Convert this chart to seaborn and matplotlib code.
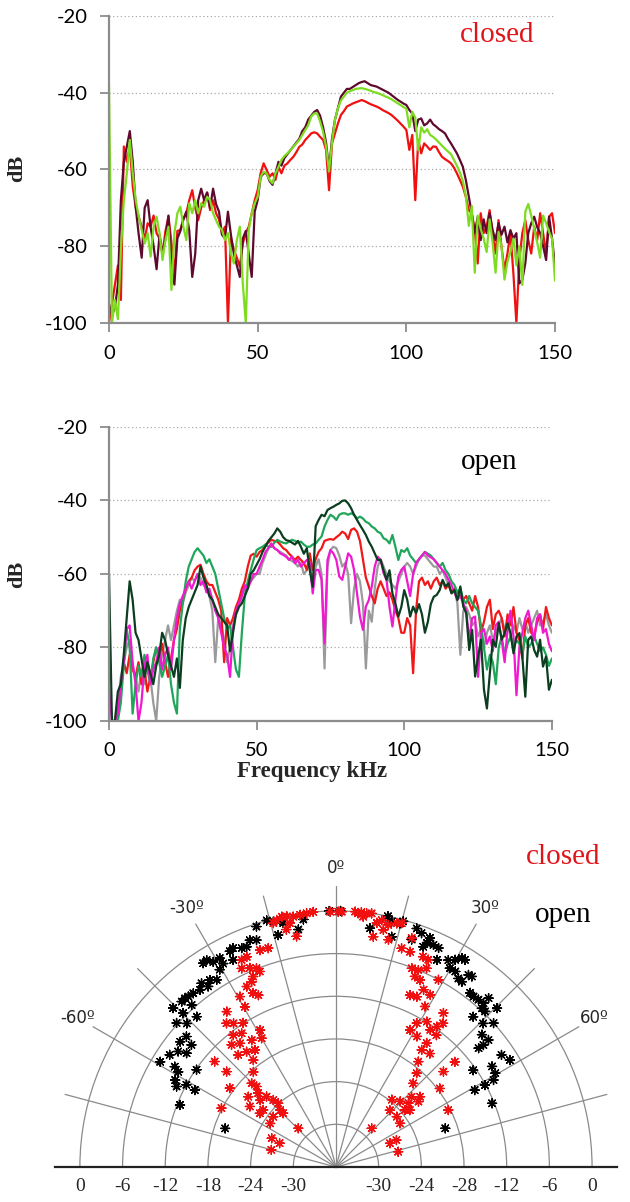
import numpy as np
import pandas as pd
import matplotlib
matplotlib.use("Agg")
from matplotlib import pyplot as plt
import seaborn as sns

# frequency axis of both spectra (kHz)
freq = list(range(0, 151))

# --- top panel: wings closed (dB) ---
closed_maroon = [
    -95, -98, -96, -90, -68, -58, -54, -50, -58, -70,
    -77, -83, -70, -68, -75, -80, -86, -77, -82, -78,
    -72, -85, -90, -78, -76, -73, -71, -76, -88, -82,
    -68, -65, -68, -66, -70, -65, -69, -71, -77, -78,
    -71, -77, -82, -85, -88, -78, -76, -82, -88, -71,
    -68, -62, -61, -61, -63, -64, -61, -58, -59, -57,
    -56, -55, -54, -53, -52, -50, -49, -47, -46, -45,
    -44.5, -46, -49, -53, -60, -52, -47, -44, -41, -40,
    -39, -39, -38.5, -38, -37.5, -37.2, -37, -37.5, -38, -38.2,
    -38.4, -38.8, -39.2, -39.6, -40, -40.6, -41.2, -41.8, -42.3, -42.8,
    -43.2, -44.5, -45.4, -50, -47, -46.7, -48.5, -48, -47, -48.2,
    -48.8, -49.5, -50, -50.6, -52, -53.2, -54.5, -55.8, -57.5, -59.3,
    -62.7, -67, -71.4, -76.6, -72.3, -78.4, -73, -76.6, -71.4, -75.8,
    -78.4, -74, -77, -74.9, -79, -75.8, -78, -76.6, -89.7, -88.8,
    -84.5, -76.6, -74, -72.3, -75, -76.6, -80, -83.6, -72.3, -78, -85.3,
]
closed_red = [
    -100, -95, -90, -85, -94, -54, -58, -54, -64.5, -70,
    -72.3, -75, -78.4, -74, -74.9, -72, -76.6, -78, -81.9, -76,
    -72.3, -79, -87.1, -76, -75.8, -73, -71.4, -68, -65.4, -70,
    -73.2, -70, -68, -66, -70.6, -68, -71.4, -73, -76.6, -74.9,
    -100, -78, -81, -83, -85.3, -79.3, -76.6, -74.9, -71.4, -68,
    -65.4, -61, -58.4, -60.1, -61.9, -61, -62.7, -59.3, -61, -59,
    -58.4, -57.5, -56.7, -55.5, -54.1, -53.5, -52.3, -51.5, -50.6, -50.3,
    -50.6, -51.5, -52.3, -54.9, -65.4, -53.2, -50.6, -48, -45.8, -44.8,
    -43.6, -43.2, -42.8, -42.5, -42.2, -41.9, -42.2, -42.6, -43, -43.3,
    -43.6, -44, -44.5, -44.9, -45.3, -45.8, -46.5, -47.2, -48, -48.8,
    -49.7, -54.9, -51, -68, -52.3, -55.8, -53.2, -54, -54.9, -54,
    -54.1, -55.5, -56.7, -57.3, -57.8, -58.4, -59.5, -61, -62.7, -64.5,
    -67.1, -70.6, -71.4, -75.8, -84.5, -71.4, -76.6, -74.9, -70.6, -76.6,
    -81.9, -73.2, -80.1, -86.2, -81.9, -76.6, -87.1, -100, -83.6, -76.6,
    -73.2, -78.4, -81.9, -74.9, -78.4, -71.4, -76.6, -81.9, -72.3, -71.4, -76.6,
]
closed_green = [
    -38, -100, -94, -99, -81, -68, -61, -52.3, -61, -68,
    -72.3, -75.8, -79.3, -76.6, -82.7, -74.9, -72.3, -76.6, -83.6, -78.4,
    -74.9, -91.4, -76.6, -71.4, -69.7, -74.9, -78.4, -68.8, -71.4, -68,
    -71.4, -68.8, -69.7, -67.1, -68, -71.4, -73.2, -74.9, -75.8, -78.4,
    -76.6, -81.9, -84.5, -78.4, -74.9, -89.7, -100, -75.8, -71.4, -68.8,
    -67.1, -61.9, -60.6, -61, -62.7, -63.6, -61, -59.3, -57.5, -56.5,
    -55.8, -55, -54.1, -53.2, -52.3, -51, -49.7, -48.5, -46.2, -45.4,
    -45.4, -47.5, -50.2, -54, -60.5, -53, -47, -44, -42, -41,
    -40, -39.6, -39.3, -39, -38.9, -38.8, -39, -39.2, -39.5, -39.8,
    -40, -40.3, -40.6, -41, -41.3, -41.7, -42.2, -42.7, -43.2, -43.7,
    -44.2, -49, -45, -46.5, -55, -49, -50.4, -49.5, -51, -51.5,
    -52.2, -53, -53.8, -54.6, -55.3, -56, -57.5, -59, -60.8, -63,
    -66.9, -74.7, -69.5, -86.9, -72, -75.5, -78, -81.5, -73, -79,
    -86.9, -76.3, -80, -88.7, -84, -81.5, -78, -85, -80, -90.1,
    -71, -69, -72, -75.5, -79, -83, -72, -74, -76.3, -78, -89,
]

# --- middle panel: wings open (dB) ---
open_gray = [
    -100, -100, -100, -95, -88, -84, -80, -78, -85, -88,
    -92, -86, -90, -84, -88, -95, -100, -88, -82, -78,
    -74, -78, -74, -70, -67, -68, -65, -63, -61, -62,
    -60, -61, -63, -64, -66, -70, -84, -72, -74, -78,
    -84, -80, -74, -71, -69, -66, -64, -63, -62, -61,
    -60, -60, -57, -55, -53, -52, -53, -53.5, -54, -54.5,
    -55, -56, -56.5, -57, -58, -57, -60, -59, -57, -62,
    -58, -56, -60, -85.7, -58, -53.5, -52.6, -53, -55, -58,
    -57, -60, -73.4, -64, -60, -62, -68, -85.7, -70, -73,
    -64, -58, -56, -58, -60, -62, -63, -64, -62, -60,
    -58, -57, -58, -60, -58, -56, -55, -55, -56, -57,
    -58, -58, -60, -59, -61, -63, -65, -64, -68, -82,
    -70, -69, -71, -74, -73, -77, -75, -80, -76, -74,
    -78, -76, -74, -72, -75, -73, -77, -74, -76, -72,
    -75, -73, -76, -74, -72, -70, -74, -73, -71, -74, -76,
]
open_red = [
    -100, -100, -100, -98, -92, -84, -87, -82, -86, -88,
    -84, -90, -86, -92, -88, -84, -80, -83, -79, -84,
    -88, -83, -78, -75, -70, -67, -64, -62, -61, -59,
    -58, -57.5, -60, -62, -63, -63, -65, -67, -70, -84,
    -72, -74, -72, -69, -67, -64, -62, -58, -55, -54.5,
    -55.3, -54, -53.5, -52, -51.5, -50.7, -51, -51.2, -52, -53,
    -53.5, -54.5, -55.3, -56.2, -55.3, -56.2, -57, -58.9, -54.4, -58.9,
    -56, -54, -53, -51, -50.7, -50.5, -50.7, -50, -49.4, -48.5,
    -49, -50.5, -48, -47.6, -48.5, -51, -56, -61, -63.4, -66,
    -68, -64, -62, -64, -66, -65, -67, -70, -72, -76,
    -76, -72, -74, -87, -70, -62, -61, -63, -62, -64,
    -62, -61, -63, -62, -64, -63, -65, -64, -65, -66,
    -67, -66, -68, -70, -66, -69, -76, -73, -69, -67,
    -75, -71, -70, -72, -77, -71, -74, -69, -76, -78,
    -83, -74, -72, -76, -77, -73, -71, -75, -69, -72, -74,
]
open_green = [
    -100, -100, -100, -100, -95, -85, -75, -80, -98, -90,
    -85, -88, -82, -86, -90, -83, -80, -84, -88, -85,
    -82, -90, -95, -98, -75, -68, -62, -58, -56, -54,
    -53, -54, -55, -57, -56, -58, -60, -64, -68, -72,
    -75, -74, -80, -86, -88, -76, -66, -62, -59, -56,
    -53.5, -53, -52.6, -52, -52.6, -52.6, -51.5, -50.7, -51.2, -51.5,
    -51.7, -51.2, -50.7, -51, -51.5, -51.2, -52, -52.6, -52.6, -52,
    -51.7, -50.7, -49.8, -47.1, -45.3, -43.9, -44.4, -45.3, -43.9, -43.5,
    -43.5, -43.9, -43.5, -43.9, -44.9, -44.4, -44.9, -45.8, -46.2, -47.1,
    -47.6, -48.5, -48.9, -50.3, -50.7, -51.7, -49.4, -52.6, -56.2, -53.5,
    -54, -53, -55, -56, -57, -56, -55, -54, -54.5, -55,
    -56, -57, -58, -57, -59, -60, -62, -63, -65, -64,
    -67, -68, -66, -68, -69, -70, -74, -80, -86, -82,
    -84, -90, -80, -77, -82, -79, -77, -80, -78, -79,
    -82, -77, -80, -79, -77, -79, -81, -80, -82, -85, -83,
]
open_magenta = [
    -91, -100, -100, -98, -90, -84, -75, -74, -84, -90,
    -100, -95, -85, -82, -90, -86, -84, -80, -86, -82,
    -80, -86, -78, -72, -68, -66, -64, -62, -64, -62,
    -60, -63, -62, -65, -64, -67, -70, -72, -76, -80,
    -82, -88, -75, -70, -68, -66, -63, -64, -62, -60,
    -60, -58, -56.2, -54, -53, -51.7, -53, -53.5, -54.4, -54.8,
    -55.3, -56.2, -55.3, -57.1, -56.2, -58, -57.1, -56.2, -57.1, -65.3,
    -58.9, -58.9, -61.6, -78.9, -56.2, -53.5, -54.4, -56.2, -60.7, -61.6,
    -58, -54.4, -55.3, -58.9, -65.3, -71.6, -75.2, -68.9, -67.1, -63.4,
    -58, -55.3, -56.2, -59.8, -61.6, -68.9, -74.3, -67.1, -60.7, -58.9,
    -58, -62, -66, -60, -57, -56, -55, -54, -55, -55.5,
    -56, -57, -58, -59, -60, -61.6, -63, -65, -67, -66,
    -68, -70, -78, -72, -71.6, -88, -76, -75, -79, -77,
    -81, -74, -73, -78, -84, -75, -70, -77, -93, -80,
    -76, -72, -70, -74, -78, -72, -71, -76, -75, -79, -81,
]
open_dark = [
    -60, -100, -100, -92, -90, -82, -72, -62, -67, -76,
    -78, -83, -88, -84, -87, -90, -85, -82, -76, -78,
    -82, -85, -88, -83, -91, -78, -72, -69, -67, -65,
    -63, -58, -61, -63, -66, -67, -69, -71, -72, -73,
    -74, -81, -76, -71, -69, -68, -66, -64, -60, -59,
    -57.5, -56, -54, -52.5, -51, -50, -49, -47.6, -48.5, -50,
    -50.8, -51, -51.5, -52, -51, -52.6, -54.5, -53, -59, -63.5,
    -47, -45.3, -43.9, -44.3, -42.6, -42.1, -41.7, -41.2, -40.8, -40.1,
    -40, -40.8, -42.1, -43.9, -45.3, -46.7, -48, -49.4, -51.2, -52.6,
    -54.4, -56.2, -56.2, -59, -61.6, -59, -65.3, -68, -71.6, -69,
    -64.4, -67, -71.6, -68.9, -70.7, -68.2, -71, -76, -73, -68.2,
    -66.2, -65.7, -64.4, -61.6, -63.4, -62.5, -65.3, -64.4, -67.1, -63.4,
    -68.9, -70.7, -80.7, -75.2, -87.9, -82.5, -77.9, -91.5, -96.6, -86.9,
    -77.9, -79.8, -73.4, -77.9, -76.1, -73.4, -76.1, -81.6, -77, -76.1,
    -82.5, -93.4, -77.9, -77, -80.7, -82.5, -77.9, -85.2, -82.5, -91.5, -88.8,
]

# --- polar panel: (angle in degrees, level in dB) ---
closed_pts = [
    (-5.1, 0.0), (-6.6, -0.1), (-8.1, -0.2), (-9.7, -0.3), (-11.1, -0.1),
    (-12.2, 0.0), (-13.5, -0.3), (-14.4, -0.6), (-10.7, -1.1), (-11.8, -1.9),
    (-9.7, -3.1), (-1.3, -0.1), (0.5, -0.1), (-19.3, -3.7), (-17.2, -3.8),
    (-23.0, -3.9), (-24.5, -4.0), (-25.4, -5.1), (-23.4, -5.5), (-21.8, -5.9),
    (-21.3, -6.5), (-23.5, -6.8), (-24.5, -7.4), (-26.3, -7.7), (-29.4, -8.5),
    (-29.6, -10.1), (-25.5, -8.9), (-24.3, -9.5), (-35.1, -9.3), (-37.3, -10.6),
    (-35.5, -11.2), (-32.8, -11.9), (-37.9, -12.5), (-35.2, -13.0), (-40.5, -13.4),
    (-37.8, -14.0), (-37.8, -15.5), (-41.1, -15.1), (-33.6, -14.6), (-29.0, -14.0),
    (-30.0, -15.1), (-34.7, -16.0), (-37.7, -17.0), (-49.0, -13.4), (-48.9, -15.6),
    (-53.4, -17.4), (-62.8, -17.9), (-41.0, -18.3), (-45.2, -19.3), (-44.6, -20.1),
    (-46.5, -20.9), (-51.3, -20.2), (-54.9, -21.2), (-48.6, -21.8), (-51.9, -23.0),
    (-44.6, -22.1), (-43.1, -23.1), (-42.2, -23.9), (-44.5, -24.8), (-51.3, -24.7),
    (-56.5, -24.9), (-44.5, -25.4), (-44.2, -28.4), (-65.9, -26.1), (-67.1, -27.4),
    (-75.2, -26.6), (-54.8, -22.9),
    (1.3, -0.1), (4.3, 0.0), (5.0, -0.2), (5.7, 0.0), (6.9, -0.1),
    (8.0, 0.0), (6.2, -0.6), (9.5, -1.2), (10.5, -0.7), (12.2, -1.2),
    (11.3, -2.0), (9.2, -3.2), (13.0, -3.2), (15.1, -0.5), (14.0, -0.7),
    (18.3, -2.1), (16.7, -3.9), (19.0, -4.0), (22.5, -4.0), (24.0, -4.1),
    (24.5, -5.3), (20.9, -6.1), (22.7, -6.0), (22.5, -7.0), (24.2, -7.2),
    (23.3, -9.7), (25.4, -9.5), (26.3, -8.2), (28.7, -8.4), (29.0, -10.2),
    (28.7, -6.0), (34.9, -9.6), (29.3, -12.8), (32.0, -11.9), (35.7, -11.7),
    (36.7, -10.8), (28.4, -14.1), (31.8, -14.4), (34.5, -12.6), (36.2, -14.4),
    (37.3, -12.7), (36.2, -15.6), (39.6, -15.3), (38.0, -17.2), (48.5, -13.7),
    (40.7, -18.6), (48.4, -15.8), (42.7, -20.0), (52.9, -17.7), (47.1, -21.5),
    (50.1, -20.6), (39.7, -23.7), (44.4, -23.1), (48.6, -22.4), (51.6, -21.2),
    (50.4, -23.4), (52.4, -22.9), (43.5, -25.0), (50.4, -24.9), (63.1, -18.3),
    (42.7, -28.6), (55.7, -25.1), (66.0, -26.7), (66.3, -27.7), (76.2, -27.0),
]
open_pts = [
    (-15.7, 0.0), (-14.3, -0.4), (-12.8, -0.4), (-12.2, -0.9), (-14.0, -2.4),
    (-9.0, -2.2), (-7.5, -0.9), (-18.3, -0.4), (-19.3, -2.2), (-20.8, -1.9),
    (-22.1, -2.6), (-23.3, -2.5), (-25.2, -2.0), (-26.2, -2.2), (-26.4, -3.5),
    (-29.1, -2.4), (-29.0, -3.3), (-32.0, -1.7), (-30.9, -2.4), (-33.1, -1.8),
    (-30.5, -3.8), (-32.5, -4.8), (-34.0, -4.3), (-35.3, -4.9), (-36.2, -4.0),
    (-37.5, -4.6), (-39.4, -4.4), (-40.9, -4.3), (-41.8, -4.2), (-43.0, -4.2),
    (-41.7, -5.5), (-42.8, -7.2), (-46.1, -6.9), (-47.9, -5.8), (-44.8, -5.5),
    (-45.7, -4.0), (-48.9, -8.1), (-51.2, -7.9), (-49.8, -9.4), (-52.7, -9.6),
    (-53.8, -8.5), (-56.0, -7.8), (-59.1, -7.2), (-58.1, -9.3), (-58.9, -10.1),
    (-55.1, -12.1), (-61.6, -10.3), (-63.2, -10.9), (-61.2, -12.0), (-61.4, -13.4),
    (-68.3, -12.4), (-70.8, -19.5), (-1.5, 0.0), (1.0, 0.0),
    (8.1, -2.1), (11.7, 0.0), (12.8, -0.6), (13.6, -2.7), (14.7, -0.6),
    (15.3, -0.2), (18.4, -2.3), (18.7, -0.6), (20.1, -1.0), (22.1, -2.0),
    (21.6, -2.7), (22.3, -1.2), (23.7, -1.9), (25.1, -2.0), (26.0, -3.6),
    (28.5, -2.9), (29.9, -2.4), (31.1, -1.7), (31.9, -1.7), (29.8, -3.8),
    (31.4, -3.8), (33.0, -4.4), (34.2, -4.5), (34.6, -3.2), (35.5, -3.1),
    (37.6, -5.1), (38.9, -5.2), (40.4, -5.1), (42.0, -5.0), (42.1, -4.0),
    (42.6, -5.7), (43.8, -5.7), (45.4, -4.2), (42.4, -7.4), (45.7, -7.1),
    (47.6, -6.0), (47.8, -8.3), (50.2, -8.1), (50.4, -9.1), (50.2, -9.9),
    (55.9, -7.9), (58.4, -7.3), (57.2, -9.9), (54.8, -12.4), (59.5, -10.0),
    (61.1, -10.7), (61.2, -12.1), (61.0, -13.7), (67.8, -12.3), (70.5, -19.7),
]

ring_levels = [-30, -24, -18, -12, -6, 0]
left_ring_labels = ["-30", "-24", "-18", "-12", "-6", "0"]
right_ring_labels = ["-30", "-24", "-28", "-12", "-6", "0"]
angle_marks = [-60, -30, 0, 30, 60]
angle_labels = ["-60º", "-30º", "0º", "30º", "60º"]

sns.set_theme(style="white")
plt.rcParams["font.family"] = ["Lato", "DejaVu Sans"]
plt.rcParams["axes.unicode_minus"] = False

fig = plt.figure(figsize=(6.3, 12.02), dpi=100)
ax1 = fig.add_axes([0.173, 0.7313, 0.708, 0.2554])
ax2 = fig.add_axes([0.173, 0.4002, 0.703, 0.2446])

top = pd.DataFrame({"freq": freq, "maroon": closed_maroon, "red": closed_red,
                    "green": closed_green}).melt(id_vars="freq", var_name="trace", value_name="dB")
sns.lineplot(data=top, x="freq", y="dB", hue="trace", hue_order=["red", "maroon", "green"],
             palette={"red": "#f01010", "maroon": "#5e0a2e", "green": "#7ddc1f"},
             lw=1.6, legend=False, ax=ax1)

mid = pd.DataFrame({"freq": freq, "gray": open_gray, "red": open_red, "green": open_green,
                    "magenta": open_magenta, "dark": open_dark}).melt(
    id_vars="freq", var_name="trace", value_name="dB")
sns.lineplot(data=mid, x="freq", y="dB", hue="trace",
             hue_order=["gray", "red", "green", "magenta", "dark"],
             palette={"gray": "#9a9a9a", "red": "#f01818", "green": "#1fa65a",
                      "magenta": "#f018d0", "dark": "#0b3d20"},
             lw=1.6, legend=False, ax=ax2)

for ax in (ax1, ax2):
    ax.set_xlim(0, 150)
    ax.set_ylim(-100, -20)
    ax.set_xticks([0, 50, 100, 150])
    ax.set_yticks([-100, -80, -60, -40, -20])
    ax.yaxis.grid(True, linestyle=(0, (1, 2)), color="#a8a8a8", lw=0.9)
    ax.xaxis.grid(False)
    sns.despine(ax=ax)
    for s in ("left", "bottom"):
        ax.spines[s].set_color("#8c8c8c")
        ax.spines[s].set_linewidth(1.6)
    ax.tick_params(axis="both", colors="#8c8c8c", labelcolor="black", labelsize=14.5,
                   length=6.5, width=1.3, pad=9, direction="out")
    ax.tick_params(axis="x", bottom=True)
    ax.tick_params(axis="y", left=True)
    ax.set_xlabel("")
    ax.set_ylabel("")

serif = ["Liberation Serif", "DejaVu Serif"]
fig.text(0.027, 0.860, "dB", rotation=90, ha="center", va="center",
         family=serif, weight="bold", fontsize=16)
fig.text(0.027, 0.522, "dB", rotation=90, ha="center", va="center",
         family=serif, weight="bold", fontsize=16)
fig.text(0.495, 0.358, "Frequency kHz", ha="center", va="center",
         family=serif, weight="bold", fontsize=16.5)
fig.text(0.789, 0.971, "closed", ha="center", va="center", family=serif,
         color="#e0151b", fontsize=21)
fig.text(0.776, 0.616, "open", ha="center", va="center", family=serif,
         color="black", fontsize=21)

# --- polar directivity ---
# the half-disc is padded to a square box, with its centre a quarter up from the bottom
pax = fig.add_axes([0.0873, -0.0878, 0.892, 0.4676], projection="polar")
pax.set_theta_zero_location("N")
pax.set_theta_direction(-1)
pax.set_thetamin(-90)
pax.set_thetamax(90)
pax.set_ylim(-36, 3.5)

pts = pd.DataFrame(open_pts + closed_pts, columns=["angle", "level"])
pts["state"] = ["open"] * len(open_pts) + ["closed"] * len(closed_pts)
pts["theta"] = np.deg2rad(pts["angle"])
sns.scatterplot(data=pts, x="theta", y="level", hue="state",
                palette={"open": "black", "closed": "#f01010"},
                marker=(8, 2, 0), s=42, linewidth=1.0, legend=False, ax=pax)

pax.set_xticks(np.deg2rad(np.arange(-75, 76, 15)))
pax.set_xticklabels([])
pax.set_yticks(ring_levels)
pax.set_yticklabels([])
pax.set_xlabel("")
pax.set_ylabel("")
pax.grid(True, color="#8a8a8a", lw=0.9)
pax.set_axisbelow(True)
pax.tick_params(length=0)
pax.spines["polar"].set_visible(False)
pax.spines["inner"].set_visible(False)
for s in ("start", "end"):
    pax.spines[s].set_color("#222222")
    pax.spines[s].set_linewidth(1.6)

for lev, lab in zip(ring_levels, left_ring_labels):
    pax.annotate(lab, xy=(np.deg2rad(-90), lev), xytext=(0, -8), textcoords="offset points",
                 ha="center", va="top", family=serif, fontsize=14)
for lev, lab in zip(ring_levels, right_ring_labels):
    pax.annotate(lab, xy=(np.deg2rad(90), lev), xytext=(0, -8), textcoords="offset points",
                 ha="center", va="top", family=serif, fontsize=14)
for ang, lab in zip(angle_marks, angle_labels):
    pax.text(np.deg2rad(ang), 6.0, lab, ha="center", va="center",
             family=["DejaVu Sans"], fontsize=12)

fig.text(0.894, 0.287, "closed", ha="center", va="center", family=serif,
         color="#e0151b", fontsize=21)
fig.text(0.894, 0.239, "open", ha="center", va="center", family=serif,
         color="black", fontsize=21)

fig.savefig("out.png", dpi=100)
